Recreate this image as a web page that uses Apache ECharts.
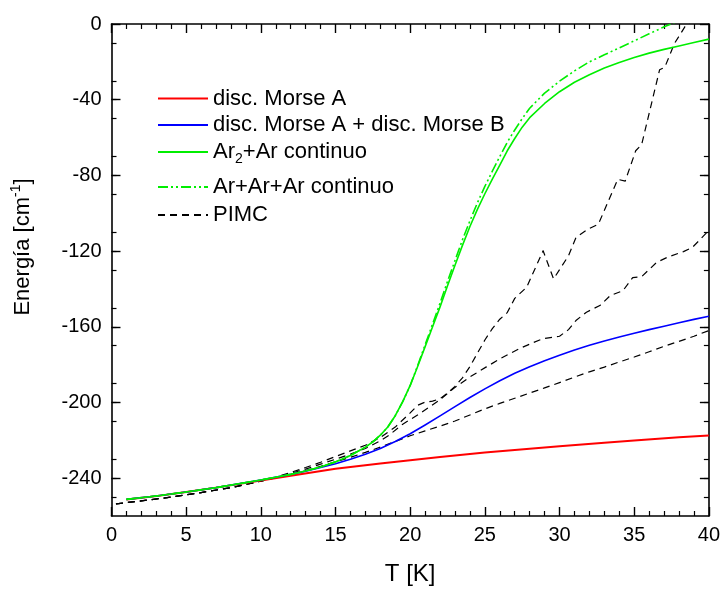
<!DOCTYPE html>
<html>
<head>
<meta charset="utf-8">
<script src="https://cdn.jsdelivr.net/npm/echarts@6/dist/echarts.min.js"></script>
<style>
  html, body { margin: 0; padding: 0; background: #fff; }
  #chart { width: 723px; height: 591px; }
</style>
</head>
<body>
<div id="chart"></div>
<script>
// Discrete Morse A
const tMorseA = [1, 3, 5, 7, 10, 12, 15, 18, 20, 22, 25, 28, 30, 33, 35, 38, 40];
const eMorseA = [-251.3, -249.5, -247.3, -245.0, -241.3, -238.7, -235.0, -232.2, -230.5, -228.8, -226.5, -224.4, -223.1, -221.3, -220.1, -218.4, -217.5];

// Discrete Morse A + discrete Morse B
const tMorseAB = [1, 3, 5, 7, 10, 12, 13, 14, 15, 16, 17, 18, 19, 20, 21, 22, 23, 24, 25, 26, 27, 28, 29, 30, 31, 32, 33, 34, 35, 36, 37, 38, 39, 40];
const eMorseAB = [-251.2, -249.4, -247.3, -245.0, -241.0, -238.0, -236.3, -234.4, -232.4, -230.0, -227.4, -224.3, -220.6, -216.5, -211.9, -207.1, -202.2, -197.4, -192.8, -188.5, -184.6, -181.1, -177.9, -175.0, -172.3, -169.8, -167.5, -165.4, -163.4, -161.5, -159.7, -157.9, -156.1, -154.4];

// Ar2 + Ar continuum
const tAr2Ar = [1, 3, 5, 7, 10, 12, 13, 14, 15, 16, 17, 17.5, 18, 18.5, 19, 19.5, 20, 20.5, 21, 21.5, 22, 22.5, 23, 23.5, 24, 24.5, 25, 25.5, 26, 26.5, 27, 27.5, 28, 29, 30, 31, 32, 33, 34, 35, 36, 37, 38, 39, 40];
const eAr2Ar = [-251.2, -249.4, -247.3, -245.0, -241.0, -238.0, -236.2, -234.1, -231.4, -228.0, -223.6, -220.8, -217.3, -213.0, -207.0, -199.6, -191.0, -181.0, -170.5, -160.0, -149.5, -138.3, -127.5, -117.0, -107.0, -98.0, -89.7, -82.0, -74.6, -67.0, -60.5, -54.5, -49.5, -42.0, -35.8, -30.8, -26.8, -23.3, -20.3, -17.7, -15.4, -13.4, -11.6, -9.8, -8.0];

// Ar + Ar + Ar continuum
const tArArAr = [1, 3, 5, 7, 10, 12, 13, 14, 15, 16, 17, 17.5, 18, 18.5, 19, 19.5, 20, 20.5, 21, 21.5, 22, 22.5, 23, 23.5, 24, 24.5, 25, 25.5, 26, 26.5, 27, 27.5, 28, 29, 30, 31, 32, 33, 34, 35, 36, 37, 38, 39];
const eArArAr = [-251.2, -249.4, -247.3, -245.0, -241.0, -238.0, -236.2, -234.1, -231.4, -228.0, -223.6, -220.8, -217.3, -213.0, -207.0, -199.6, -191.0, -180.5, -169.5, -158.5, -147.5, -136.0, -125.0, -114.0, -104.0, -94.5, -85.8, -77.8, -70.0, -62.5, -56.0, -50.0, -44.5, -36.5, -30.2, -24.8, -20.0, -16.3, -12.6, -8.9, -5.2, -1.5, 1.8, 5.0];

// PIMC runs
const tPimc1 = [0.3, 2, 4, 6, 8, 10, 11, 12, 13, 14, 15, 16, 17, 18, 19, 20, 20.5, 21, 21.5, 22, 22.5, 23, 23.5, 24, 24.5, 25, 25.5, 26, 26.5, 27, 27.8, 28.9, 29.6, 30.6, 31.1, 31.9, 32.6, 33.9, 34.4, 35.1, 35.5, 36.7, 37.05, 37.7, 38.4, 39];
const ePimc1 = [-253.6, -252.0, -250.0, -247.6, -245.0, -241.6, -239.5, -237.0, -234.4, -231.6, -228.6, -225.6, -222.6, -218.5, -213.0, -205.5, -201.5, -199.8, -199.3, -198.0, -195.0, -191.5, -187.0, -181.0, -174.0, -167.0, -161.0, -156.0, -152.5, -145.0, -139.1, -119.8, -134.7, -122.5, -112.8, -108.4, -105.8, -82.1, -83.0, -67.0, -63.7, -24.2, -22.8, -10.2, -1.4, 3.0];

const tPimc2 = [0.3, 2, 4, 6, 8, 10, 11, 12, 13, 14, 15, 16, 17, 18, 18.6, 19.5, 20.65, 22, 22.9, 24, 25.1, 26, 27.3, 28.2, 28.9, 30, 30.6, 31.1, 31.8, 32.25, 32.7, 33.4, 34.25, 34.9, 35.5, 36.5, 37.3, 38.3, 38.9, 39.4, 40];
const ePimc2 = [-253.6, -252.0, -250.0, -247.6, -245.0, -241.6, -239.7, -237.5, -235.2, -232.6, -230.0, -227.3, -224.3, -220.3, -217.2, -211.5, -205.8, -198.5, -192.6, -186.5, -181.2, -177.0, -171.6, -168.5, -166.3, -165.0, -161.5, -156.7, -152.3, -150.5, -148.8, -143.5, -140.9, -134.0, -133.5, -126.0, -123.0, -120.3, -118.0, -114.0, -109.0];

const tPimc3 = [0.3, 2, 4, 6, 8, 10, 11, 12, 13, 14, 15, 16, 17, 18, 19, 20, 21, 22, 23, 24, 25, 26, 27, 28, 29, 30, 31, 32, 33, 34, 35, 36, 37, 38, 39, 40];
const ePimc3 = [-253.6, -252.0, -250.0, -247.6, -245.0, -241.6, -239.9, -238.0, -236.0, -233.8, -231.4, -229.0, -226.4, -223.6, -220.6, -217.6, -215.0, -212.5, -209.8, -206.6, -203.4, -200.5, -197.8, -195.0, -192.3, -189.5, -186.6, -183.8, -181.3, -178.6, -176.0, -173.2, -170.3, -167.7, -165.0, -162.0];

// Axis ranges and tick labels
const xTicks = { min: 0, max: 40, interval: 5 };
const yTicks = { min: -260, max: 0, interval: 40 };
const yTickValues = [0, -40, -80, -120, -160, -200, -240];

const names = ['disc. Morse A', 'disc. Morse A + disc. Morse B', 'Ar2+Ar continuo', 'Ar+Ar+Ar continuo', 'PIMC'];

const FONT = '"Liberation Sans", Arial, sans-serif';
const zip = (xs, ys) => xs.map((x, i) => [x, ys[i]]);

const chart = echarts.init(document.getElementById('chart'), null, { renderer: 'canvas' });

const axisBase = {
  type: 'value',
  axisLine: { show: true, onZero: false, lineStyle: { color: '#000', width: 1.6 } },
  axisTick: { show: true, inside: true, length: 9, lineStyle: { color: '#000', width: 1.4 } },
  minorTick: { show: true, length: 5, lineStyle: { color: '#000', width: 1.2 } },
  splitLine: { show: false },
  minorSplitLine: { show: false }
};

function xAxisDef(pos, labels) {
  return Object.assign({}, axisBase, {
    position: pos, min: xTicks.min, max: xTicks.max, interval: xTicks.interval,
    minorTick: Object.assign({}, axisBase.minorTick, { splitNumber: 5 }),
    axisLabel: { show: labels, margin: 9, color: '#000', fontFamily: FONT, fontSize: 20 },
    name: labels ? 'T [K]' : '', nameLocation: 'middle', nameGap: 46,
    nameTextStyle: { color: '#000', fontFamily: FONT, fontSize: 24 }
  });
}

function yAxisDef(pos, labels) {
  return Object.assign({}, axisBase, {
    position: pos, min: yTicks.min, max: yTicks.max, interval: yTicks.interval,
    minorTick: Object.assign({}, axisBase.minorTick, { splitNumber: 4 }),
    axisLabel: {
      show: labels, margin: 10, color: '#000', fontFamily: FONT, fontSize: 20,
      customValues: yTickValues
    },
    axisTick: Object.assign({}, axisBase.axisTick, { customValues: yTickValues }),
    name: labels ? '{t|Energía [cm}{s|-1}{t|]}' : '', nameLocation: 'middle', nameGap: 76, nameRotate: 90,
    nameTextStyle: {
      color: '#000', fontFamily: FONT, fontSize: 22, padding: [0, 0, 0, 46],
      rich: {
        t: { fontFamily: FONT, fontSize: 22, color: '#000' },
        s: { fontFamily: FONT, fontSize: 14, color: '#000', padding: [0, 0, 12, 0] }
      }
    }
  });
}

// One legend block per entry so each row sits at its own height
const legendRows = [98.5, 125, 152, 187, 215];
const legends = names.map((n, i) => ({
  data: [n],
  left: 157,
  top: legendRows[i] - 11,
  padding: 0,
  itemWidth: 50,
  itemHeight: 14,
  itemStyle: { opacity: 0 },
  textStyle: {
    fontFamily: FONT, fontSize: 22, color: '#000',
    rich: {
      a: { fontFamily: FONT, fontSize: 22, color: '#000' },
      s: { fontFamily: FONT, fontSize: 14, color: '#000', padding: [14, 0, 0, 0] }
    }
  },
  formatter: (name) => name === 'Ar2+Ar continuo' ? '{a|Ar}{s|2}{a|+Ar continuo}' : name
}));

function lineSeries(name, xs, ys, color, width, type) {
  return {
    name, type: 'line', data: zip(xs, ys), symbol: 'none', showSymbol: false,
    smooth: false, clip: true,
    lineStyle: { color, width, type, join: 'round' }, itemStyle: { color },
    emphasis: { disabled: true }, silent: true
  };
}

chart.setOption({
  animation: false,
  backgroundColor: '#fff',
  grid: { left: 111.5, right: 14, top: 24, bottom: 73, containLabel: false },
  xAxis: [xAxisDef('bottom', true), xAxisDef('top', false)],
  yAxis: [yAxisDef('left', true), yAxisDef('right', false)],
  legend: legends,
  series: [
    lineSeries(names[4], tPimc1, ePimc1, '#000', 1.2, [7, 5]),
    lineSeries(names[4], tPimc2, ePimc2, '#000', 1.2, [7, 5]),
    lineSeries(names[4], tPimc3, ePimc3, '#000', 1.2, [7, 5]),
    lineSeries(names[0], tMorseA, eMorseA, '#ff0000', 2, 'solid'),
    lineSeries(names[1], tMorseAB, eMorseAB, '#0000ff', 1.6, 'solid'),
    lineSeries(names[3], tArArAr, eArArAr, '#00ee00', 1.6, [10, 3, 2, 3, 2, 3]),
    lineSeries(names[2], tAr2Ar, eAr2Ar, '#00ee00', 1.6, 'solid')
  ]
});
</script>
</body>
</html>
